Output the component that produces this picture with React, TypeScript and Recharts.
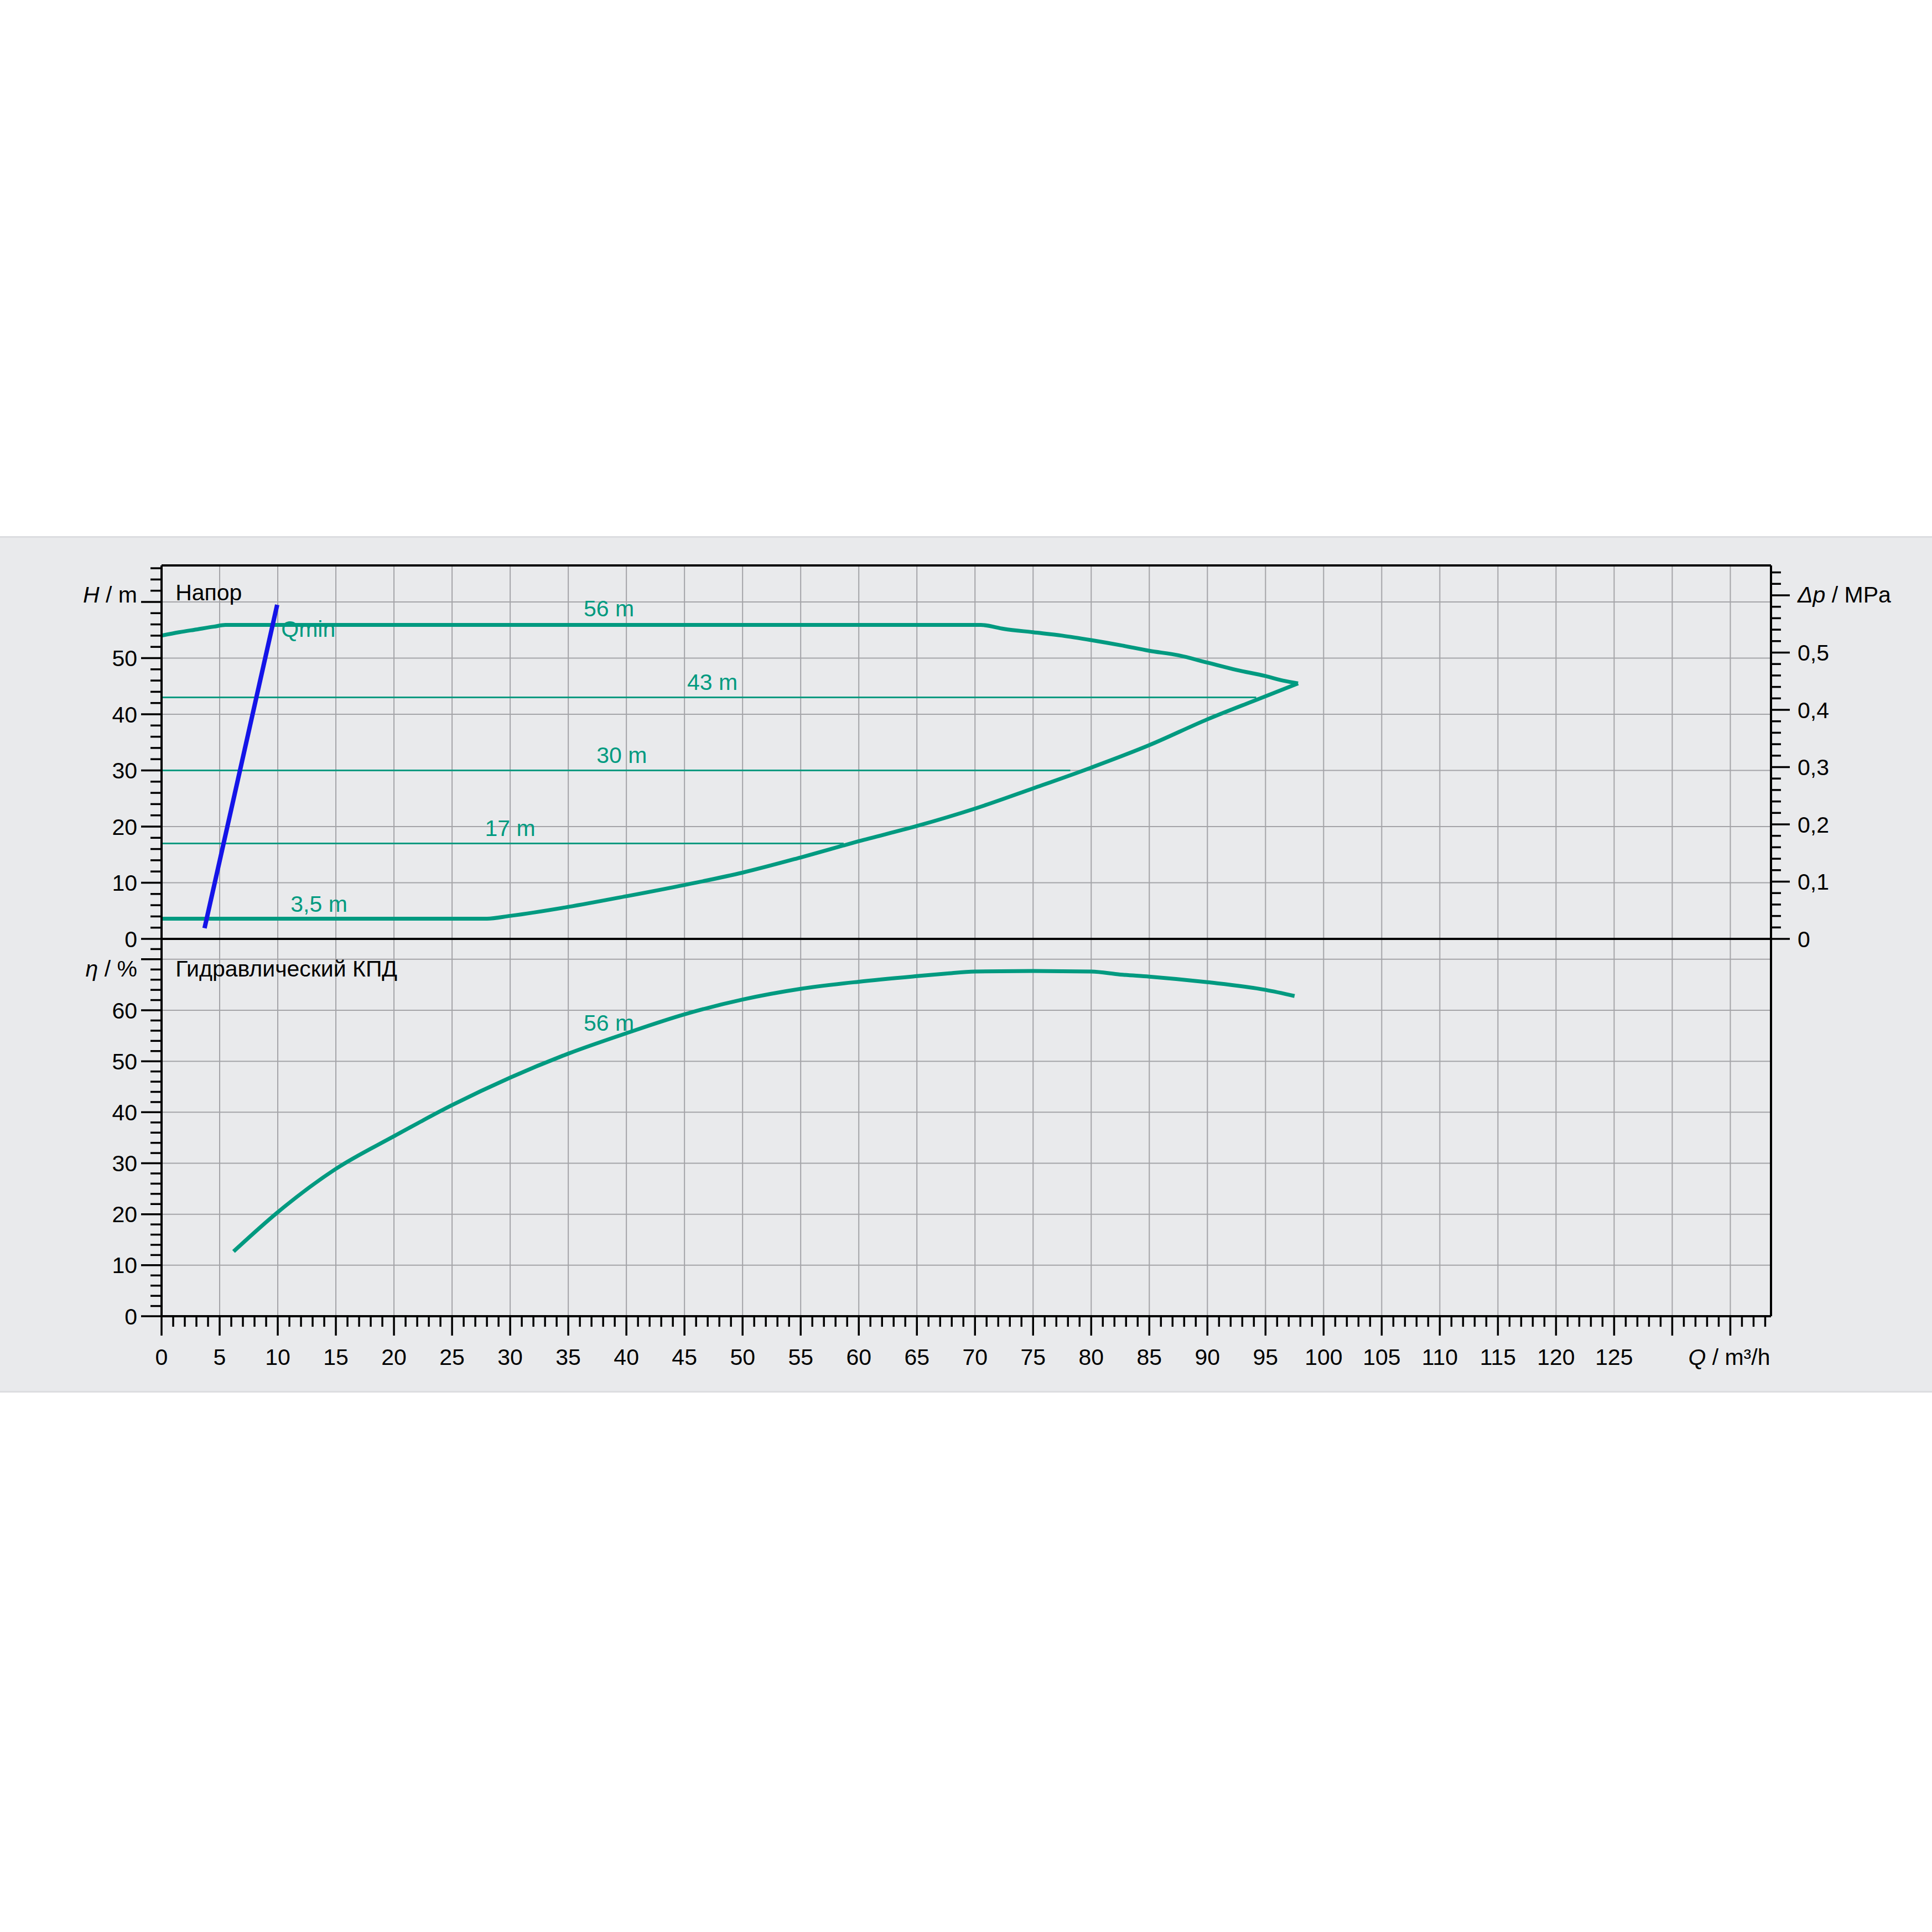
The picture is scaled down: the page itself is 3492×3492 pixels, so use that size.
import React from "react";
import {
  CartesianGrid,
  Line,
  LineChart,
  ReferenceDot,
  ReferenceLine,
  XAxis,
  YAxis,
} from "recharts";

const TEAL = "#009a80";
const BLUE = "#1414e8";
const GRID = "#a4a4a8";
const BAND = "#e9eaec";
const FONT = "'Liberation Sans', Arial, sans-serif";
const FS = 41;

const Q_MAX = 138.5;
const H_TOP = 66.5;
const P_TOP = H_TOP / 101.97; // 0.1 MPa of water is about 10.2 m
const ETA_TOP = 74;

// head: max curve (56 m)
const maxQ = [0, 1.5, 3, 4.5, 5.5, 70.5, 72.5, 75, 77.5, 80, 82.5, 85, 87.5, 90, 92.5, 95, 96.5, 97.8];
const maxH = [54.0, 54.6, 55.1, 55.6, 55.9, 55.9, 55.2, 54.6, 54.0, 53.2, 52.3, 51.3, 50.5, 49.2, 47.9, 46.8, 46.0, 45.5];

// head: lower limit curve (3,5 m line rising to the max point)
const limQ = [0, 28, 30, 35, 40, 45, 50, 55, 60, 65, 70, 75, 80, 85, 90, 95, 97.8];
const limH = [3.6, 3.6, 4.1, 5.7, 7.6, 9.6, 11.8, 14.5, 17.4, 20.1, 23.2, 26.8, 30.5, 34.5, 39.1, 43.2, 45.5];

// constant setpoint lines
const setH = [43, 30, 17];
const setEndQ = [94.2, 78.2, 58.7];

// Qmin line
const qminQ = [3.7, 9.95];
const qminH = [1.9, 59.5];

// hydraulic efficiency at 56 m
const etaQ = [6.2, 10, 15, 20, 25, 30, 35, 40, 45, 50, 55, 60, 65, 67.5, 70, 75, 80, 82.5, 85, 90, 95, 97.5];
const etaV = [12.7, 20.4, 28.9, 35.3, 41.4, 46.8, 51.5, 55.5, 59.2, 62.1, 64.2, 65.6, 66.7, 67.2, 67.6, 67.7, 67.6, 67.0, 66.6, 65.5, 64.0, 62.8];

// axes
const Q_MAJOR = [0, 5, 10, 15, 20, 25, 30, 35, 40, 45, 50, 55, 60, 65, 70, 75, 80, 85, 90, 95, 100, 105, 110, 115, 120, 125, 130, 135];
const Q_LABELS = ["0", "5", "10", "15", "20", "25", "30", "35", "40", "45", "50", "55", "60", "65", "70", "75", "80", "85", "90", "95", "100", "105", "110", "115", "120", "125"];
const H_MAJOR = [0, 10, 20, 30, 40, 50, 60];
const H_LABELS = ["0", "10", "20", "30", "40", "50"];
const P_MAJOR = [0, 0.1, 0.2, 0.3, 0.4, 0.5, 0.6];
const P_LABELS = ["0", "0,1", "0,2", "0,3", "0,4", "0,5"];
const ETA_MAJOR = [0, 10, 20, 30, 40, 50, 60, 70];
const ETA_LABELS = ["0", "10", "20", "30", "40", "50", "60"];

// curve captions
const headTags = [
  { q: 38.5, v: 58.9, text: "56 m", align: "middle", color: TEAL },
  { q: 47.4, v: 45.8, text: "43 m", align: "middle", color: TEAL },
  { q: 39.6, v: 32.8, text: "30 m", align: "middle", color: TEAL },
  { q: 30.0, v: 19.8, text: "17 m", align: "middle", color: TEAL },
  { q: 13.55, v: 6.3, text: "3,5 m", align: "middle", color: TEAL },
  { q: 10.3, v: 55.2, text: "Qmin", align: "start", color: TEAL },
  { q: 1.2, v: 61.7, text: "Напор", align: "start", color: "#000" },
];
const etaTags = [
  { q: 38.5, v: 57.6, text: "56 m", align: "middle", color: TEAL },
  { q: 1.2, v: 68.2, text: "Гидравлический КПД", align: "start", color: "#000" },
];

const steps = (to: number, step: number) =>
  Array.from({ length: Math.floor(to / step + 1e-9) + 1 }, (_, i) => Math.round(i * step * 1000) / 1000);

const zip = (qs: number[], vs: number[]) => qs.map((q, i) => ({ q, v: vs[i] }));

const near = (a: number, b: number) => Math.abs(a - b) < 1e-6;

const AxisTick = (props: any) => {
  const { x, y, payload, cfg } = props;
  const v = Number(payload.value);
  const i = cfg.majors.findIndex((m: number) => near(m, v));
  const len = i >= 0 ? cfg.long : cfg.short;
  const isNum = i >= 0 && i < cfg.labels.length;
  const text = isNum ? cfg.labels[i] : i >= 0 && near(v, cfg.titleAt) ? cfg.title : null;
  const font = { fill: "#000", fontSize: FS, fontFamily: FONT };
  if (cfg.side === "bottom") {
    return (
      <g>
        <line x1={x} x2={x} y1={y} y2={y + len} stroke="#000" strokeWidth={3.5} />
        {text && (
          <text
            x={isNum ? x : x + cfg.titleShift}
            y={y + cfg.gap}
            dy="0.71em"
            textAnchor={isNum ? "middle" : "end"}
            {...font}
          >
            {text}
          </text>
        )}
      </g>
    );
  }
  const dir = cfg.side === "left" ? -1 : 1;
  const ty = isNum ? y : y + (cfg.titleDy || 0);
  return (
    <g>
      <line x1={x} x2={x + dir * len} y1={y} y2={y} stroke="#000" strokeWidth={3.5} />
      {text && (
        <text x={x + dir * cfg.gap} y={ty} dy="0.355em" textAnchor={dir < 0 ? "end" : "start"} {...font}>
          {text}
        </text>
      )}
    </g>
  );
};

const Tag = (p: any) => {
  const vb = p.viewBox || {};
  return (
    <text x={vb.x} y={vb.y} dy="0.355em" textAnchor={p.align} fill={p.tone} fontSize={FS} fontFamily={FONT}>
      {p.caption}
    </text>
  );
};

const hCfg = {
  side: "left", majors: H_MAJOR, labels: H_LABELS, long: 37, short: 20, gap: 44, titleAt: 60, titleDy: -14,
  title: (<><tspan fontStyle="italic">H</tspan> / m</>),
};
const pCfg = {
  side: "right", majors: P_MAJOR, labels: P_LABELS, long: 34, short: 18, gap: 48, titleAt: 0.6, titleDy: -2,
  title: (<><tspan fontStyle="italic">Δp</tspan> / MPa</>),
};
const etaCfg = {
  side: "left", majors: ETA_MAJOR, labels: ETA_LABELS, long: 37, short: 20, gap: 44, titleAt: 70, titleDy: 17,
  title: (<><tspan fontStyle="italic">η</tspan> / %</>),
};
const qCfg = {
  side: "bottom", majors: Q_MAJOR, labels: Q_LABELS, long: 35, short: 19, gap: 59, titleAt: 135, titleShift: 72,
  title: (<><tspan fontStyle="italic">Q</tspan> / m³/h</>),
};

const frame = { stroke: "#000", strokeWidth: 4 };
const MARGIN_UP = { top: 20, right: 41, bottom: 30, left: 92 };
const MARGIN_LOW = { top: 10, right: 41, bottom: 0, left: 92 };

const App = () => {
  return (
    <div style={{ position: "absolute", left: 0, top: 0, width: 3492, height: 3492, background: "#fff" }}>
      <div
        style={{
          position: "absolute", left: 0, top: 969, width: 3492, height: 1548, background: BAND,
          borderTop: "3px solid #dcdde0", borderBottom: "3px solid #dcdde0", boxSizing: "border-box",
        }}
      />
      <div style={{ position: "absolute", left: 0, top: 1687 }}>
        <LineChart width={3492} height={812} margin={MARGIN_LOW}>
          <CartesianGrid
            yAxisId="eta"
            stroke={GRID}
            strokeWidth={2}
            verticalValues={Q_MAJOR.slice(1)}
            horizontalValues={ETA_MAJOR.slice(1)}
          />
          <XAxis
            type="number"
            dataKey="q"
            domain={[0, Q_MAX]}
            allowDataOverflow
            ticks={steps(138, 1)}
            interval={0}
            height={120}
            tickSize={0}
            tickMargin={0}
            tickLine={false}
            axisLine={frame}
            tick={(p: any) => <AxisTick {...p} cfg={qCfg} />}
          />
          <YAxis
            yAxisId="eta"
            type="number"
            domain={[0, ETA_TOP]}
            allowDataOverflow
            ticks={steps(72, 2)}
            interval={0}
            width={200}
            tickSize={0}
            tickMargin={0}
            tickLine={false}
            axisLine={frame}
            tick={(p: any) => <AxisTick {...p} cfg={etaCfg} />}
          />
          <YAxis yAxisId="edge" orientation="right" type="number" domain={[0, ETA_TOP]} width={250}
            tick={false} tickLine={false} axisLine={frame} />
          <Line yAxisId="eta" data={zip(etaQ, etaV)} dataKey="v" type="monotone" stroke={TEAL} strokeWidth={7}
            dot={false} activeDot={false} isAnimationActive={false} />
          {etaTags.map((t) => (
            <ReferenceDot
              key={t.text}
              yAxisId="eta"
              x={t.q}
              y={t.v}
              r={0}
              fill="none"
              stroke="none"
              label={<Tag caption={t.text} align={t.align} tone={t.color} />}
            />
          ))}
        </LineChart>
      </div>
      <div style={{ position: "absolute", left: 0, top: 1002 }}>
        <LineChart width={3492} height={725} margin={MARGIN_UP}>
          <CartesianGrid
            yAxisId="h"
            stroke={GRID}
            strokeWidth={2}
            verticalValues={Q_MAJOR.slice(1)}
            horizontalValues={H_MAJOR.slice(1)}
          />
          <XAxis type="number" dataKey="q" domain={[0, Q_MAX]} allowDataOverflow hide />
          <YAxis
            yAxisId="h"
            type="number"
            domain={[0, H_TOP]}
            allowDataOverflow
            ticks={steps(66, 2)}
            interval={0}
            width={200}
            tickSize={0}
            tickMargin={0}
            tickLine={false}
            axisLine={frame}
            tick={(p: any) => <AxisTick {...p} cfg={hCfg} />}
          />
          <YAxis
            yAxisId="p"
            orientation="right"
            type="number"
            domain={[0, P_TOP]}
            allowDataOverflow
            ticks={steps(0.64, 0.02)}
            interval={0}
            width={250}
            tickSize={0}
            tickMargin={0}
            tickLine={false}
            axisLine={frame}
            tick={(p: any) => <AxisTick {...p} cfg={pCfg} />}
          />
          {setH.map((h, i) => (
            <Line
              key={`set-${h}`}
              yAxisId="h"
              data={zip([0, setEndQ[i]], [h, h])}
              dataKey="v"
              type="linear"
              stroke={TEAL}
              strokeWidth={3}
              dot={false}
              activeDot={false}
              isAnimationActive={false}
            />
          ))}
          <Line yAxisId="h" data={zip(limQ, limH)} dataKey="v" type="monotone" stroke={TEAL} strokeWidth={7}
            dot={false} activeDot={false} isAnimationActive={false} />
          <Line yAxisId="h" data={zip(maxQ, maxH)} dataKey="v" type="monotone" stroke={TEAL} strokeWidth={7}
            dot={false} activeDot={false} isAnimationActive={false} />
          <Line yAxisId="h" data={zip(qminQ, qminH)} dataKey="v" type="linear" stroke={BLUE} strokeWidth={8}
            dot={false} activeDot={false} isAnimationActive={false} />
          <ReferenceLine yAxisId="h" y={H_TOP} stroke="#000" strokeWidth={4} />
          <ReferenceLine yAxisId="h" y={0} stroke="#000" strokeWidth={4} />
          {headTags.map((t) => (
            <ReferenceDot
              key={t.text}
              yAxisId="h"
              x={t.q}
              y={t.v}
              r={0}
              fill="none"
              stroke="none"
              label={<Tag caption={t.text} align={t.align} tone={t.color} />}
            />
          ))}
        </LineChart>
      </div>
    </div>
  );
};

export default App;
